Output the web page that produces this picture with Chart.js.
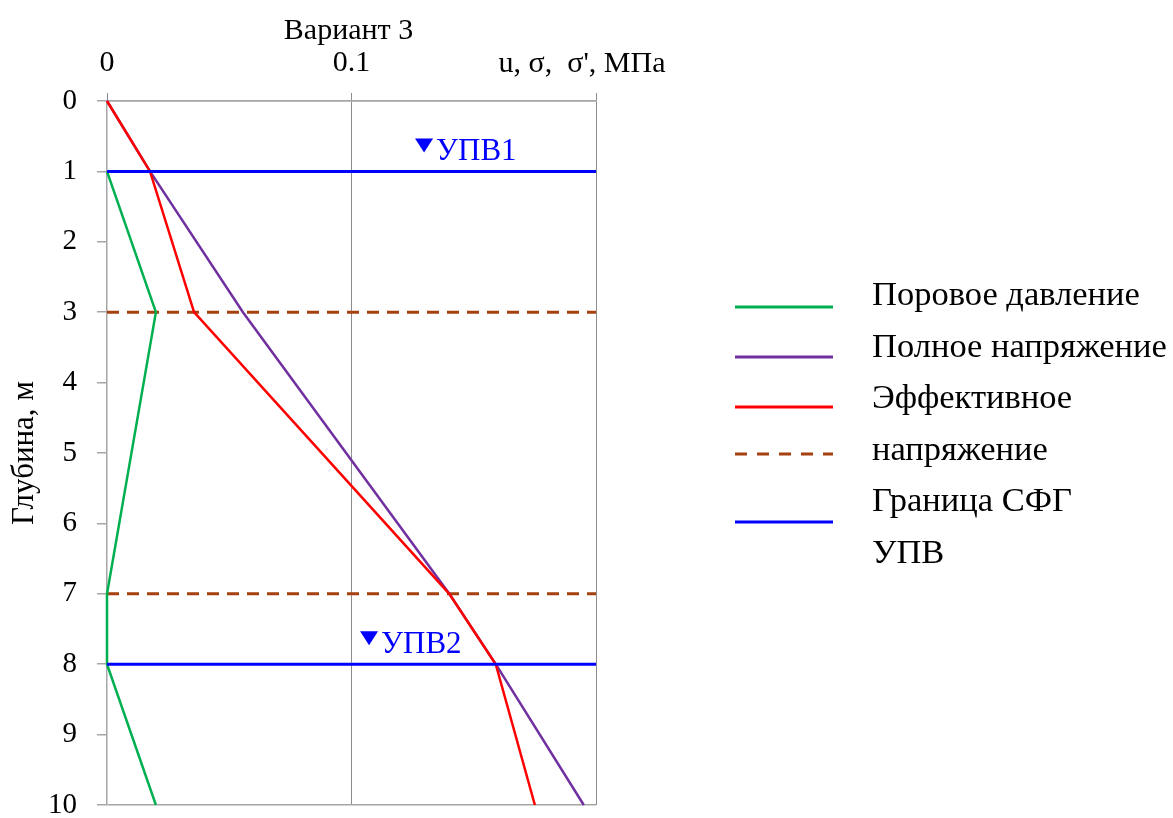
<!DOCTYPE html>
<html lang="ru">
<head>
<meta charset="utf-8">
<title>Вариант 3</title>
<script src="https://cdn.jsdelivr.net/npm/chart.js@4.4.1/dist/chart.umd.min.js"></script>
<style>
    html, body { margin: 0; padding: 0; background: #ffffff; }
    #stressChart { display: block; }
</style>
</head>
<body>
<canvas id="stressChart" width="1173" height="818"></canvas>
<script>
// Depth profile, m
const depths = [0, 1, 3, 7, 8, 10];
// Stresses, MPa (null = not drawn)
const porePressure = [null, 0, 0.02, 0, 0, 0.02];
const totalStress = [0, 0.0176, 0.0556, 0.140, 0.159, 0.195];
const effectiveStress = [0, 0.0176, 0.0356, 0.140, 0.159, 0.175];

// Layer boundaries (СФГ) and ground water levels (УПВ)
const layerBoundaries = [3, 7];
const waterLevels = [1, 8];
const waterLabels = ['УПВ1', 'УПВ2'];
const waterLabelStress = [0.126, 0.1035];

const xTicks = [0, 0.1, 0.2];
const xMax = 0.2;
const yMax = 10;

const FONT = "'Liberation Serif', 'Times New Roman', serif";
const AXIS_GRAY = '#a6a6a6';
const GRID_GRAY = '#8c8c8c';

const colors = {
    pore: '#00b050',
    total: '#7030a0',
    effective: '#ff0000',
    boundary: '#a5410e',
    water: '#0000ff'
};

function profile(values) {
    return depths
        .map((d, i) => (values[i] === null ? null : { x: values[i], y: d }))
        .filter(p => p !== null);
}

function levelLine(depth) {
    return [{ x: 0, y: depth }, { x: xMax, y: depth }];
}

const datasets = [
    {
        label: 'Эффективное напряжение',
        data: profile(effectiveStress),
        borderColor: colors.effective,
        borderWidth: 2.5,
        order: 1
    },
    {
        label: 'Полное напряжение',
        data: profile(totalStress),
        borderColor: colors.total,
        borderWidth: 2.5,
        order: 2
    },
    {
        label: 'Поровое давление',
        data: profile(porePressure),
        borderColor: colors.pore,
        borderWidth: 2.5,
        order: 3
    }
];

layerBoundaries.forEach(d => datasets.push({
    label: 'Граница СФГ',
    data: levelLine(d),
    borderColor: colors.boundary,
    borderWidth: 3,
    borderDash: [12, 8],
    order: 4
}));

waterLevels.forEach(d => datasets.push({
    label: 'УПВ',
    data: levelLine(d),
    borderColor: colors.water,
    borderWidth: 3,
    order: 0
}));

datasets.forEach(ds => {
    ds.showLine = true;
    ds.pointRadius = 0;
    ds.pointHoverRadius = 0;
    ds.tension = 0;
    ds.fill = false;
    ds.clip = false;
});

// Titles, unit label, water level markers and the legend block
const decorPlugin = {
    id: 'decor',
    afterDraw(chart) {
        const ctx = chart.ctx;
        const xs = chart.scales.x;
        const ys = chart.scales.y;
        const area = chart.chartArea;

        ctx.save();
        ctx.fillStyle = '#000';
        ctx.textAlign = 'center';
        ctx.textBaseline = 'alphabetic';

        // chart title
        ctx.font = `30px ${FONT}`;
        ctx.fillText('Вариант 3', (area.left + area.right) / 2 - 3, 39);

        // unit label in place of the last tick
        ctx.fillText("u, σ,  σ', МПа", xs.getPixelForValue(xMax) - 14, 72);

        // y axis title
        ctx.save();
        ctx.translate(33, (area.top + area.bottom) / 2);
        ctx.rotate(-Math.PI / 2);
        ctx.font = `31px ${FONT}`;
        ctx.fillText('Глубина, м', 0, 0);
        ctx.restore();

        // water level markers
        ctx.fillStyle = colors.water;
        ctx.textAlign = 'left';
        ctx.font = `31px ${FONT}`;
        waterLevels.forEach((d, i) => {
            const px = xs.getPixelForValue(waterLabelStress[i]);
            const py = ys.getPixelForValue(d) - 11;
            ctx.beginPath();
            ctx.moveTo(px, py - 22);
            ctx.lineTo(px + 18, py - 22);
            ctx.lineTo(px + 9, py - 8);
            ctx.closePath();
            ctx.fill();
            ctx.fillText(waterLabels[i], px + 21, py);
        });

        // legend
        const swatches = [
            { y: 307, color: colors.pore },
            { y: 357, color: colors.total },
            { y: 407, color: colors.effective },
            { y: 454, color: colors.boundary, dash: [12, 10] },
            { y: 522, color: colors.water }
        ];
        const texts = [
            'Поровое давление',
            'Полное напряжение',
            'Эффективное',
            'напряжение',
            'Граница СФГ',
            'УПВ'
        ];
        ctx.lineWidth = 3;
        swatches.forEach(s => {
            ctx.beginPath();
            ctx.setLineDash(s.dash || []);
            ctx.strokeStyle = s.color;
            ctx.moveTo(735, s.y);
            ctx.lineTo(833, s.y);
            ctx.stroke();
        });
        ctx.setLineDash([]);
        ctx.fillStyle = '#000';
        ctx.font = `34.5px ${FONT}`;
        texts.forEach((t, i) => {
            ctx.fillText(t, 872, 305 + i * 51.6);
        });
        ctx.restore();
    }
};

const ctx = document.getElementById('stressChart');
new Chart(ctx, {
    type: 'scatter',
    data: { datasets },
    options: {
        responsive: false,
        animation: false,
        events: [],
        layout: {
            padding: { left: 0, top: 0, right: 577, bottom: 13 }
        },
        plugins: {
            legend: { display: false },
            tooltip: { enabled: false }
        },
        scales: {
            x: {
                type: 'linear',
                position: 'top',
                min: 0,
                max: xMax,
                afterFit: scale => {
                    scale.height = 101;
                    scale.paddingLeft = 0;
                    scale.paddingRight = 0;
                },
                afterBuildTicks: scale => {
                    scale.ticks = xTicks.map(v => ({ value: v }));
                },
                grid: {
                    color: c => (c.tick && c.tick.value > 0 ? GRID_GRAY : 'transparent'),
                    tickColor: GRID_GRAY,
                    tickLength: 8,
                    lineWidth: 1
                },
                border: { color: AXIS_GRAY, width: 1.5 },
                ticks: {
                    color: '#000',
                    padding: 12,
                    maxRotation: 0,
                    font: { family: FONT, size: 30 },
                    callback: v => (v === 0 ? '0' : v < 0.15 ? '0.1' : '')
                }
            },
            y: {
                type: 'linear',
                reverse: true,
                min: 0,
                max: yMax,
                afterFit: scale => {
                    scale.width = 107;
                    scale.paddingTop = 0;
                    scale.paddingBottom = 0;
                },
                grid: {
                    color: c => (c.tick && (c.tick.value === 0 || c.tick.value === yMax) ? AXIS_GRAY : 'transparent'),
                    tickColor: AXIS_GRAY,
                    tickLength: 10,
                    lineWidth: 1.5
                },
                border: { color: AXIS_GRAY, width: 1.5 },
                ticks: {
                    stepSize: 1,
                    color: '#000',
                    padding: 20,
                    font: { family: FONT, size: 29 }
                }
            }
        }
    },
    plugins: [decorPlugin]
});
</script>
</body>
</html>
